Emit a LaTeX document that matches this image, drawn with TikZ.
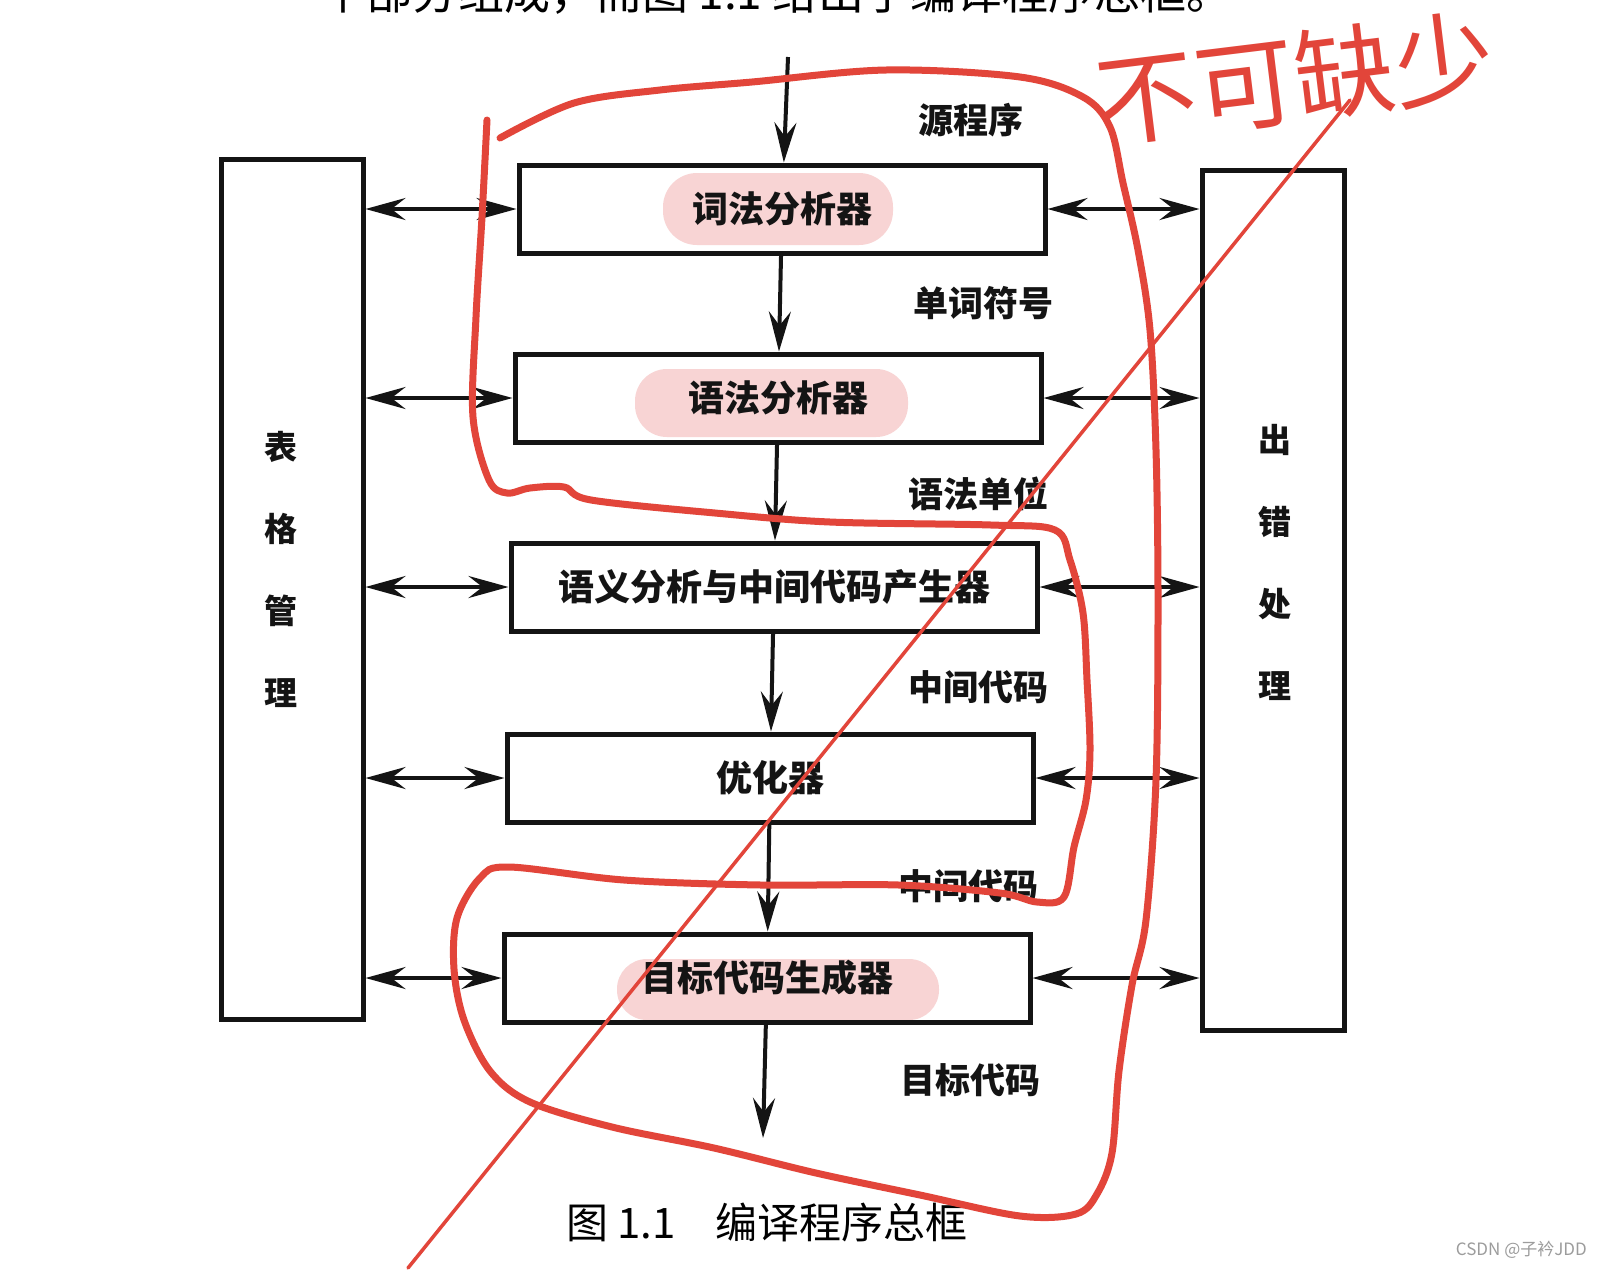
\documentclass[tikz,border=0pt]{standalone}
\usepackage{fontspec}
\newfontfamily\cjk{Noto Sans CJK SC}
\usetikzlibrary{arrows.meta}
\definecolor{ink}{HTML}{141414}
\definecolor{redink}{HTML}{E2453A}
\definecolor{hilite}{HTML}{F8D4D4}
\definecolor{mark}{HTML}{9C9C9C}

\begin{document}
\begin{tikzpicture}[
  x=1pt, y=-1pt,
  >={Stealth[length=40pt,width=22pt,inset=14pt]},
  stage/.style={draw=ink, line width=5pt, minimum width=526pt, minimum height=88pt, inner sep=0pt, font=\cjk\bfseries\fontsize{36}{40}\selectfont, text=ink},
  side/.style={draw=ink, line width=5pt, minimum width=142pt, minimum height=860pt},
  sidetxt/.style={font=\cjk\bfseries\fontsize{33}{82}\selectfont, align=center, text=ink},
  lbl/.style={anchor=west, inner sep=0pt, font=\cjk\bfseries\fontsize{35}{40}\selectfont, text=ink},
  flow/.style={->, draw=ink, line width=4pt},
  both/.style={<->, draw=ink, line width=4pt},
  scribble/.style={draw=redink, line width=7pt, line cap=round, line join=round},
]
\fill[white] (0,0) rectangle (1600,1270);
\useasboundingbox (0,0) rectangle (1600,1270);

% pen highlights behind the stage names
\fill[hilite, rounded corners=34pt] (663,173) rectangle (893,245);
\fill[hilite, rounded corners=32pt] (635,369) rectangle (908,437);
\fill[hilite, rounded corners=30pt] (617,959) rectangle (939,1020);

% cut-off line of the page
\begin{scope}
  \clip (0,0) rectangle (1600,16);
  \node[anchor=base east, inner sep=0pt, font=\cjk\fontsize{46}{46}\selectfont] (head) at (1233,9) {个部分组成，而图 1.1 给出了编译程序总框。};
\end{scope}

% compiler stages
\node[stage] (lex) at (782,209) {词法分析器};
\node[stage] (syn) at (778,398) {语法分析器};
\node[stage] (sem) at (774,587) {语义分析与中间代码产生器};
\node[stage] (opt) at (770,778) {优化器};
\node[stage] (gen) at (767,978) {目标代码生成器};

\node[side] (tab) at (292,589) {};
\node[side] (err) at (1273,600) {};
\node[sidetxt] (tabtxt) at (281,569) {表\\格\\管\\理};
\node[sidetxt] (errtxt) at (1275,562) {出\\错\\处\\理};

\coordinate (src) at (788,57);
\coordinate (out) at (763,1138);

% main flow
\draw[flow] (src) -- (lex);
\draw[flow] (lex) -- (syn);
\draw[flow] (syn) -- (sem);
\draw[flow] (sem) -- (opt);
\draw[flow] (opt) -- (gen);
\draw[flow] (gen) -- (out);

\node[lbl] (l1) at (918,120) {源程序};
\node[lbl] (l2) at (913,303) {单词符号};
\node[lbl] (l3) at (908,494) {语法单位};
\node[lbl] (l4) at (908,687) {中间代码};
\node[lbl] (l5) at (898,886) {中间代码};
\node[lbl] (l6) at (900,1080) {目标代码};

% table / error links
\foreach \s in {lex,syn,sem,opt,gen} {
  \draw[both] (tab.east |- \s) -- (\s.west);
  \draw[both] (\s.east) -- (err.west |- \s);
}

\node[anchor=west, inner sep=0pt, font=\cjk\fontsize{42}{42}\selectfont] (cap) at (566,1222) {图 1.1\hspace{40pt}编译程序总框};
\node[anchor=east, inner sep=0pt, text=mark, font=\cjk\fontsize{17}{17}\selectfont] (wm) at (1587,1250) {CSDN @子衿JDD};

% red pen notes
\draw[scribble] plot[smooth, tension=0.55] coordinates {
  (500,138) (574,103) (660,90) (752,82) (886,70) (1020,77) (1083,97) (1110,127)
  (1123,183) (1138,250) (1150,330) (1156,450) (1158,600) (1156,780) (1146,920)
  (1132,985) (1119,1071) (1112,1153) (1097,1194) (1076,1214) (1020,1216) (920,1195)
  (816,1173) (714,1148) (612,1127) (530,1102) (490,1071) (464,1020) (454,969)
  (457,918) (480,878) (509,867) (624,880) (761,885) (899,885) (1000,893) (1037,902)
  (1064,897) (1074,847) (1086,800) (1090,750) (1087,680) (1083,613) (1070,560)
  (1055,530) (991,525) (830,522) (715,513) (591,500) (564,487) (530,488) (507,493)
  (489,480) (473,417) (476,317) (482,217) (487,120)};
\draw[scribble, line width=3.5pt] (408,1268) -- (1350,100);
\node[text=redink, rotate=7, inner sep=0pt, font=\cjk\fontsize{100}{100}\selectfont] (note) at (1295,78) {不可缺少};

\end{tikzpicture}
\end{document}
